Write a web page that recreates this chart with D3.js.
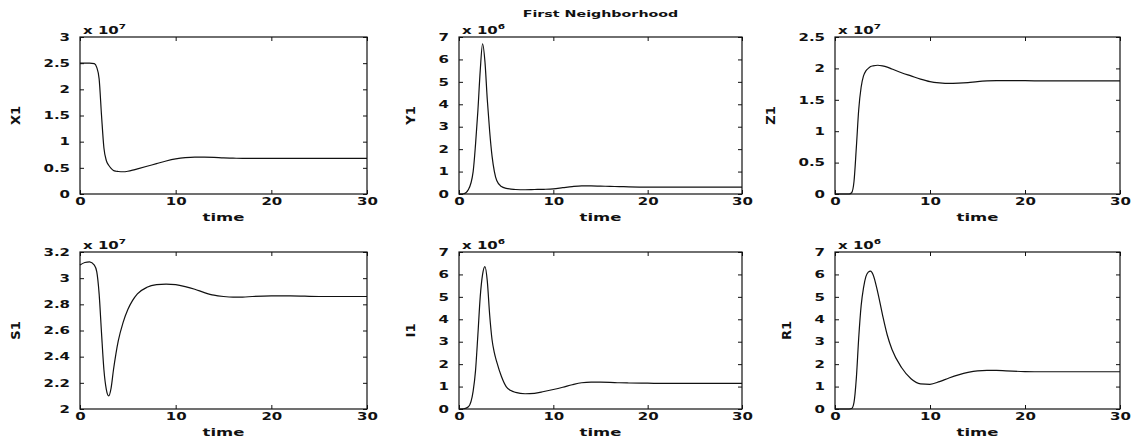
<!DOCTYPE html>
<html>
<head>
<meta charset="utf-8">
<script src="https://cdn.jsdelivr.net/npm/d3@7"></script>
<style>
    body { margin: 0; background: #fff; }
    svg text { font-family: "DejaVu Sans", sans-serif; fill: #111; }
</style>
</head>
<body>
<div id="chart"></div>
<script>
// shared time grid (denser where the epidemic peak happens)
const time = [0, 0.5, 1, 1.5, 1.75, 2, 2.25, 2.5, 2.75, 3, 3.25, 3.5, 3.75, 4, 4.5, 5, 5.5, 6, 7, 8, 9, 10, 11, 12, 13, 14, 15, 16, 17, 18, 20, 22, 25, 30];

// values in units of the axis multiplier (x 10^7 or x 10^6)
const X1 = [2.5, 2.5, 2.5, 2.49, 2.42, 2.2, 1.5, 0.88, 0.64, 0.55, 0.49, 0.45, 0.435, 0.43, 0.425, 0.435, 0.455, 0.48, 0.53, 0.58, 0.63, 0.67, 0.695, 0.705, 0.705, 0.7, 0.69, 0.685, 0.68, 0.68, 0.68, 0.68, 0.68, 0.68];
const Y1 = [0, 0.01, 0.2, 1.0, 2.2, 3.7, 5.5, 6.7, 5.9, 4.2, 2.8, 1.7, 1.0, 0.6, 0.33, 0.25, 0.22, 0.2, 0.19, 0.2, 0.21, 0.23, 0.28, 0.33, 0.36, 0.36, 0.35, 0.34, 0.33, 0.32, 0.31, 0.31, 0.31, 0.31];
const Z1 = [0, 0, 0, 0, 0.02, 0.2, 0.75, 1.35, 1.7, 1.88, 1.96, 2.0, 2.03, 2.04, 2.05, 2.04, 2.02, 1.99, 1.93, 1.88, 1.83, 1.79, 1.77, 1.76, 1.765, 1.775, 1.79, 1.8, 1.805, 1.805, 1.805, 1.8, 1.8, 1.8];
const S1 = [3.1, 3.12, 3.125, 3.1, 3.05, 2.88, 2.58, 2.3, 2.15, 2.1, 2.16, 2.3, 2.42, 2.52, 2.66, 2.76, 2.83, 2.88, 2.93, 2.95, 2.955, 2.95, 2.935, 2.915, 2.89, 2.87, 2.86, 2.855, 2.855, 2.86, 2.865, 2.865, 2.86, 2.86];
const I1 = [0, 0.01, 0.1, 0.8, 1.7, 3.3, 5.0, 6.0, 6.35, 5.7, 4.2, 3.1, 2.5, 2.1, 1.45, 1.0, 0.82, 0.74, 0.68, 0.7, 0.78, 0.87, 0.97, 1.08, 1.17, 1.2, 1.2, 1.19, 1.17, 1.16, 1.15, 1.14, 1.14, 1.14];
const R1 = [0, 0, 0, 0, 0.02, 0.3, 1.4, 3.2, 4.6, 5.4, 5.9, 6.1, 6.15, 6.0, 5.2, 4.2, 3.3, 2.65, 1.85, 1.35, 1.12, 1.1, 1.22, 1.38, 1.52, 1.63, 1.7, 1.72, 1.72, 1.7, 1.67, 1.66, 1.66, 1.66];

// tick values
const xTicks = [0, 10, 20, 30];
const ticksX1 = [0, 0.5, 1, 1.5, 2, 2.5, 3];
const ticksZ1 = [0, 0.5, 1, 1.5, 2, 2.5];
const ticksS1 = [2, 2.2, 2.4, 2.6, 2.8, 3, 3.2];
const ticks07 = [0, 1, 2, 3, 4, 5, 6, 7];

const title = "First Neighborhood";
const xLabel = "time";

const panels = [
    {name: "X1", values: X1, domain: [0, 3],   ticks: ticksX1, exponent: "7"},
    {name: "Y1", values: Y1, domain: [0, 7],   ticks: ticks07, exponent: "6"},
    {name: "Z1", values: Z1, domain: [0, 2.5], ticks: ticksZ1, exponent: "7"},
    {name: "S1", values: S1, domain: [2, 3.2], ticks: ticksS1, exponent: "7"},
    {name: "I1", values: I1, domain: [0, 7],   ticks: ticks07, exponent: "6"},
    {name: "R1", values: R1, domain: [0, 7],   ticks: ticks07, exponent: "6"}
];

// page layout (axes boxes, like matlab subplot 2x3)
const width = 1133, height = 445;
const cols = [[80, 367], [459, 742], [835, 1120]];
const rows = [[37, 194], [252, 409]];
const SX = 1.5; // the scanned figure has horizontally stretched lettering

const svg = d3.select("#chart").append("svg")
    .attr("width", width)
    .attr("height", height);

function stretch(sel) {
    sel.each(function() {
        const t = d3.select(this);
        const x = +t.attr("x") || 0;
        t.attr("x", x / SX).attr("transform", `scale(${SX},1)`);
    });
}

function drawPanel(p, i) {
    const [x0, x1] = cols[i % 3];
    const [y0, y1] = rows[Math.floor(i / 3)];
    const w = x1 - x0, h = y1 - y0;

    const xScale = d3.scaleLinear().domain([0, 30]).range([0, w]);
    const yScale = d3.scaleLinear().domain(p.domain).range([h, 0]);
    const fmt = d => parseFloat(d.toPrecision(3));

    const g = svg.append("g").attr("transform", `translate(${x0},${y0})`);

    const bottom = g.append("g")
        .attr("transform", `translate(0,${h})`)
        .call(d3.axisBottom(xScale).tickValues(xTicks).tickFormat(fmt)
            .tickSizeInner(-4).tickSizeOuter(0).tickPadding(4));
    g.append("g")
        .call(d3.axisTop(xScale).tickValues(xTicks).tickFormat("")
            .tickSizeInner(-4).tickSizeOuter(0));
    const left = g.append("g")
        .call(d3.axisLeft(yScale).tickValues(p.ticks).tickFormat(fmt)
            .tickSizeInner(-4).tickSizeOuter(0).tickPadding(10));
    g.append("g")
        .attr("transform", `translate(${w},0)`)
        .call(d3.axisRight(yScale).tickValues(p.ticks).tickFormat("")
            .tickSizeInner(-4).tickSizeOuter(0));

    g.selectAll(".domain").remove();
    g.selectAll(".tick line").attr("stroke", "#111").attr("stroke-width", 1);
    g.selectAll(".tick text")
        .attr("font-family", "DejaVu Sans")
        .attr("font-size", 10)
        .attr("font-weight", "bold")
        .attr("fill", "#111");
    stretch(bottom.selectAll(".tick text"));
    stretch(left.selectAll(".tick text"));

    g.append("rect")
        .attr("width", w)
        .attr("height", h)
        .attr("fill", "none")
        .attr("stroke", "#111")
        .attr("stroke-width", 1.2);

    const line = d3.line()
        .x((d, j) => xScale(time[j]))
        .y(d => yScale(d))
        .curve(d3.curveMonotoneX);

    g.append("path")
        .datum(p.values)
        .attr("d", line)
        .attr("fill", "none")
        .attr("stroke", "#111")
        .attr("stroke-width", 1.2);

    // x label
    const xl = g.append("text")
        .attr("x", w / 2)
        .attr("y", h + 27)
        .attr("text-anchor", "middle")
        .attr("font-size", 11)
        .attr("font-weight", "bold")
        .text(xLabel);
    stretch(xl);

    // exponent above the y axis
    const ex = g.append("text")
        .attr("x", 3)
        .attr("y", -3)
        .attr("font-size", 10)
        .attr("font-weight", "bold");
    ex.append("tspan").text("x 10");
    ex.append("tspan").attr("dy", -5).attr("font-size", 7).text(p.exponent);
    stretch(ex);

    // y label, placed left of the widest tick label
    const tickW = d3.max(left.selectAll(".tick text").nodes(), n => n.getBBox().width) * SX;
    const lx = -10 - tickW - 28;
    g.append("text")
        .attr("transform", `translate(${lx},${h / 2}) rotate(-90)`)
        .attr("text-anchor", "middle")
        .attr("dy", "0.35em")
        .attr("font-size", 13)
        .attr("font-weight", "bold")
        .text(p.name);
}

panels.forEach(drawPanel);

const tt = svg.append("text")
    .attr("x", (cols[1][0] + cols[1][1]) / 2)
    .attr("y", 17)
    .attr("text-anchor", "middle")
    .attr("font-size", 9.5)
    .attr("font-weight", "bold")
    .text(title);
stretch(tt);
</script>
</body>
</html>
